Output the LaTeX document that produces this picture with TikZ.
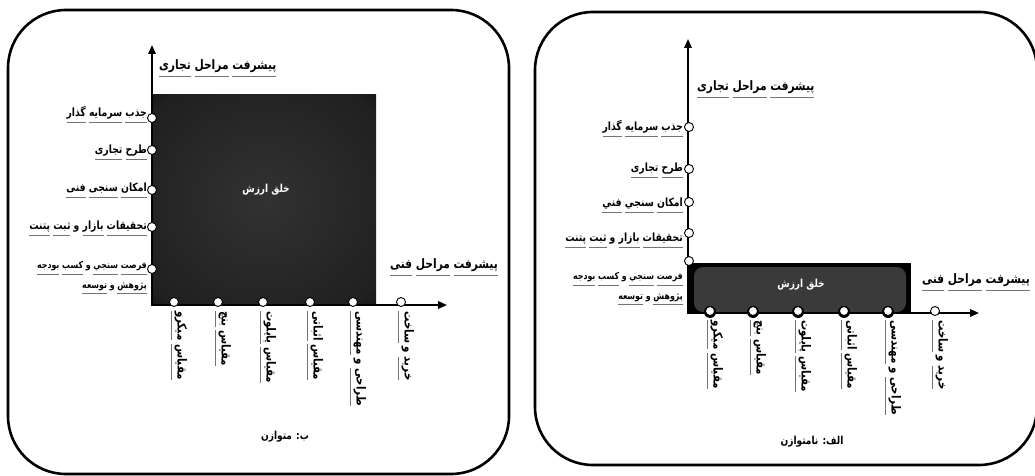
\documentclass[tikz,border=0pt]{standalone}
\usepackage{fontspec}
\usetikzlibrary{arrows.meta}
\newfontfamily\arfont[Script=Arabic, FakeStretch=0.82]{DejaVu Sans}
\TeXXeTstate=1
\definecolor{ulc}{gray}{0.45}
\definecolor{glowc}{HTML}{323232}
\definecolor{glowm}{HTML}{202020}
\definecolor{boxg}{HTML}{3A3A3A}
% one underlined word: a fixed-depth word box with a thin rule below it
\newcommand\uw[1]{\vtop{\hbox{\vrule width 0pt height 0pt depth 0.4em\relax #1}\kern 0.9pt{\color{ulc}\hrule height 0.6pt}}}
% a right-to-left line
\newcommand\rtl[1]{{\arfont\beginR #1\endR}}
\pgfdeclareradialshading{glowbox}{\pgfpoint{0bp}{0bp}}{color(0bp)=(glowc); color(32bp)=(glowm); color(47bp)=(black); color(50bp)=(black)}
\tikzset{
  frame/.style={line width=2.6pt, rounded corners=58pt},
  axis/.style={line width=1.8pt, {Triangle[length=9pt,width=7.5pt]}-{Triangle[length=9pt,width=7.5pt]}},
  dot/.style={circle, draw=black, fill=white, line width=0.9pt, minimum size=9pt, inner sep=0pt},
  lab/.style={font=\arfont\bfseries\fontsize{11.3}{13}\selectfont, inner sep=0pt},
  small/.style={font=\arfont\bfseries\fontsize{9.6}{11}\selectfont, inner sep=0pt},
  ttl/.style={font=\arfont\bfseries\fontsize{13}{15}\selectfont, inner sep=0pt},
  vlab/.style={font=\arfont\bfseries\fontsize{12.5}{14}\selectfont, inner sep=0pt, rotate=-90, anchor=south west},
  val/.style={font=\arfont\bfseries\fontsize{11}{13}\selectfont, text=white, inner sep=0pt},
  captxt/.style={font=\arfont\bfseries\fontsize{11}{13}\selectfont, inner sep=0pt},
}
\begin{document}
\begin{tikzpicture}[x=1pt,y=-1pt]
\useasboundingbox (0,0) rectangle (1035,476);
\fill[white] (0,0) rectangle (1035,476);

% ---------- panel b: balanced ----------
\draw[frame] (8,10) rectangle (509,474);
\shade[shading=glowbox] (152,95) rectangle (376,305);
\node[val] (L-val) at (266,190) {\rtl{خلق ارزش}};
\coordinate (L-o) at (152,305);
\coordinate (L-yt) at (152,45);
\coordinate (L-xt) at (447,305);
\draw[axis] (L-yt) -- (L-o) -- (L-xt);
\foreach \n/\y in {1/118,2/150,3/190,4/227,5/269}
  \node[dot] (L-y\n) at (152,\y) {};
\foreach \n/\x in {1/174,2/218,3/263,4/310,5/353,6/401}
  \node[dot] (L-x\n) at (\x,302) {};
\node[ttl, anchor=west] (L-ty) at (159,68) {\rtl{\uw{پیشرفت} \uw{مراحل} \uw{تجاری}}};
\node[ttl, anchor=east] (L-tx) at (498,267) {\rtl{\uw{پیشرفت} \uw{مراحل} \uw{فنی}}};
\node[lab, anchor=east] (L-l1) at (147,114) {\rtl{\uw{جذب} \uw{سرمایه} \uw{گذار}}};
\node[lab, anchor=east] (L-l2) at (147,152) {\rtl{\uw{طرح} \uw{تجاری}}};
\node[lab, anchor=east] (L-l3) at (147,190) {\rtl{\uw{امکان} \uw{سنجی} \uw{فنی}}};
\node[lab, anchor=east] (L-l4) at (147,228) {\rtl{\uw{تحقیقات} \uw{بازار} و \uw{ثبت} \uw{پتنت}}};
\node[small, anchor=east] (L-l5) at (147,268) {\rtl{\uw{فرصت} \uw{سنجي} و \uw{کسب} \uw{بودجه}}};
\node[small, anchor=east] (L-l6) at (147,288) {\rtl{\uw{پژوهش} و \uw{توسعه}}};
\node[vlab] (L-v1) at (171,311) {\rtl{\uw{مقیاس} \uw{میکرو}}};
\node[vlab] (L-v2) at (215,311) {\rtl{\uw{مقیاس} \uw{بنچ}}};
\node[vlab] (L-v3) at (260,311) {\rtl{\uw{مقیاس} \uw{پایلوت}}};
\node[vlab] (L-v4) at (307,311) {\rtl{\uw{مقیاس} \uw{اثباتی}}};
\node[vlab] (L-v5) at (350,311) {\rtl{\uw{طراحی} و \uw{مهندسی}}};
\node[vlab] (L-v6) at (398,311) {\rtl{\uw{خرید} و \uw{ساخت}}};
\node[captxt] (L-cap) at (285,437) {\rtl{ب: متوازن}};

% ---------- panel a: unbalanced ----------
\draw[frame] (535,12) rectangle (1037,465);
\fill[black] (688,263) rectangle (911,313);
\fill[boxg, rounded corners=9pt] (694,267) rectangle (906,312);
\foreach \x in {710,753,798,844,888}
  \fill[black] (\x,312) circle (6);
\node[val] (R-val) at (801,285) {\rtl{خلق ارزش}};
\coordinate (R-o) at (688,313);
\coordinate (R-yt) at (688,39);
\coordinate (R-xt) at (979,313);
\draw[axis] (R-yt) -- (R-o) -- (R-xt);
\foreach \n/\y in {1/127,2/169,3/202,4/233,5/261}
  \node[dot] (R-y\n) at (689,\y) {};
\foreach \n/\x in {1/710,2/753,3/798,4/844,5/888,6/935}
  \node[dot] (R-x\n) at (\x,311) {};
\node[ttl, anchor=west] (R-ty) at (697,89) {\rtl{\uw{پیشرفت} \uw{مراحل} \uw{تجاری}}};
\node[ttl, anchor=east] (R-tx) at (1030,282) {\rtl{\uw{پیشرفت} \uw{مراحل} \uw{فنی}}};
\node[lab, anchor=east] (R-l1) at (683,128) {\rtl{\uw{جذب} \uw{سرمایه} \uw{گذار}}};
\node[lab, anchor=east] (R-l2) at (683,170) {\rtl{\uw{طرح} \uw{تجاری}}};
\node[lab, anchor=east] (R-l3) at (683,205) {\rtl{\uw{امکان} \uw{سنجي} \uw{فني}}};
\node[lab, anchor=east] (R-l4) at (683,240) {\rtl{\uw{تحقیقات} \uw{بازار} و \uw{ثبت} \uw{پتنت}}};
\node[small, anchor=east] (R-l5) at (683,279) {\rtl{\uw{فرصت} \uw{سنجي} و \uw{کسب} \uw{بودجه}}};
\node[small, anchor=east] (R-l6) at (683,299) {\rtl{\uw{پژوهش} و \uw{توسعه}}};
\node[vlab] (R-v1) at (707,320) {\rtl{\uw{مقیاس} \uw{میکرو}}};
\node[vlab] (R-v2) at (750,320) {\rtl{\uw{مقیاس} \uw{بنچ}}};
\node[vlab] (R-v3) at (795,320) {\rtl{\uw{مقیاس} \uw{پایلوت}}};
\node[vlab] (R-v4) at (841,320) {\rtl{\uw{مقیاس} \uw{اثباتی}}};
\node[vlab] (R-v5) at (885,320) {\rtl{\uw{طراحی} و \uw{مهندسی}}};
\node[vlab] (R-v6) at (932,320) {\rtl{\uw{خرید} و \uw{ساخت}}};
\node[captxt] (R-cap) at (812,442) {\rtl{الف: نامتوازن}};
\end{tikzpicture}
\end{document}
